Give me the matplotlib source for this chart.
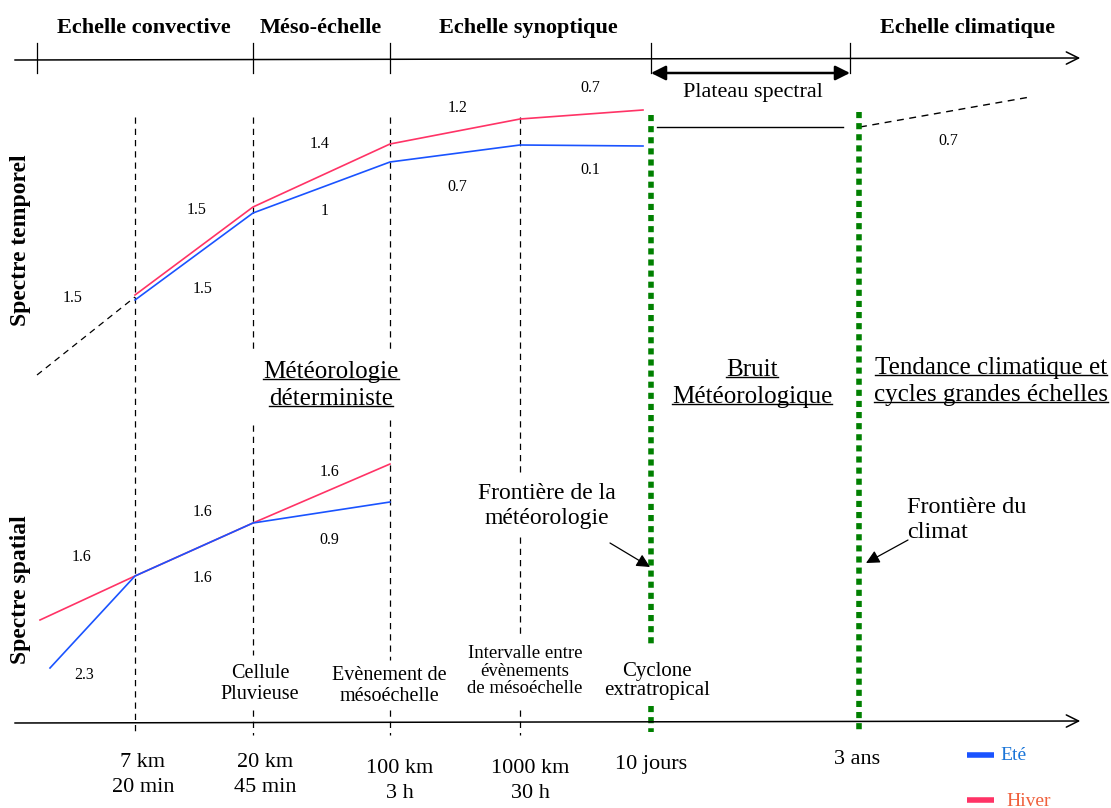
import matplotlib.pyplot as plt

# Schéma des échelles météorologiques (coordonnées en pixels de l'image)
scale_bounds = [37, 253, 390, 651, 850]
scale_names = ["Echelle convective", "Méso-échelle", "Echelle synoptique", "Echelle climatique"]
scale_name_x = [144, 321, 528, 968]

# lignes verticales pointillées noires
dash_x = [135, 253, 390, 520]
dash_segments = [[(117, 735)],
                 [(117, 350), (425, 655), (710, 735)],
                 [(117, 350), (420, 660), (710, 735)],
                 [(117, 472), (537, 635), (710, 735)]]

# spectre temporel
temp_x = [135, 253, 390, 520, 643]
temp_hiver = [295, 207, 144, 119, 110]
temp_ete = [300, 213, 162, 145, 146]
temp_labels = [("1.5", 73, 298), ("1.5", 203, 289), ("1.5", 197, 210), ("1", 325, 211),
               ("1.4", 320, 144), ("0.7", 457, 187), ("1.2", 458, 108), ("0.7", 590, 88),
               ("0.1", 590, 170), ("0.7", 948, 141)]

# spectre spatial
spat_x_hiver = [40, 135, 253, 390]
spat_hiver = [620, 576, 523, 464]
spat_x_ete = [50, 135, 253, 390]
spat_ete = [668, 576, 523, 502]
spat_labels = [("1.6", 82, 557), ("2.3", 84, 675), ("1.6", 203, 578), ("1.6", 203, 512),
               ("1.6", 330, 472), ("0.9", 329, 540)]

bottom_x = [143, 265, 400, 530, 651, 857]
bottom_labels = ["7 km\n20 min", "20 km\n45 min", "100 km\n3 h", "1000 km\n30 h", "10 jours", "3 ans"]
bottom_y = [775, 775, 781, 781, 765, 760]

events = [("Cellule\nPluvieuse", 260, 684, 14.5, 1.1), ("Evènement de\nmésoéchelle", 389, 686, 14.5, 1.1),
          ("Intervalle entre\névènements\nde mésoéchelle", 525, 671, 13.5, 1.05),
          ("Cyclone\nextratropical", 657, 681, 15, 1.05)]

green_x = [651, 859]
green_segments = [[(115, 645), (706, 732)], [(112, 732)]]
red = "#ff3366"
blue = "#1a53ff"
green = "#008000"

plt.rcParams['font.family'] = ['Liberation Serif', 'DejaVu Serif']

fig = plt.figure(figsize=(11.11, 8.08), dpi=100)
ax = fig.add_axes([0, 0, 1, 1])
ax.set_xlim(0, 1111)
ax.set_ylim(808, 0)
ax.axis("off")

# axe du haut
ax.annotate("", xy=(1083, 58), xytext=(12, 60),
            arrowprops=dict(arrowstyle="->", lw=1.1, color="black", mutation_scale=22))
for x in scale_bounds:
    ax.plot([x, x], [43, 73], color="black", lw=0.9)
for name, x in zip(scale_names, scale_name_x):
    ax.text(x, 28, name, ha="center", va="center", fontsize=16, fontweight="bold")

# plateau spectral
ax.annotate("", xy=(850, 73), xytext=(651, 73),
            arrowprops=dict(arrowstyle="<|-|>", lw=1.8, color="black", mutation_scale=22,
                            shrinkA=0, shrinkB=0))
ax.text(753, 93, "Plateau spectral", ha="center", va="center", fontsize=16)
ax.plot([657, 843], [127, 127], color="black", lw=1)
ax.plot([860, 1030], [127, 97], color="black", lw=1, ls=(0, (5, 4)))

# axe du bas
ax.annotate("", xy=(1083, 721), xytext=(12, 723),
            arrowprops=dict(arrowstyle="->", lw=1.1, color="black", mutation_scale=22))

for x, segs in zip(dash_x, dash_segments):
    for y0, y1 in segs:
        ax.plot([x, x], [y0, y1], color="black", lw=0.9, ls=(0, (5, 4)))

for x, segs in zip(green_x, green_segments):
    for y0, y1 in segs:
        ax.plot([x, x], [y0, y1], color=green, lw=4, ls=(0, (1.1, 0.9)), dash_capstyle="butt")

# courbes
ax.plot([37, 135], [375, 297], color="black", lw=0.9, ls=(0, (5, 4)))
ax.plot(temp_x, temp_hiver, color=red, lw=1.2)
ax.plot(temp_x, temp_ete, color=blue, lw=1.2)
ax.plot(spat_x_hiver, spat_hiver, color=red, lw=1.2)
ax.plot(spat_x_ete, spat_ete, color=blue, lw=1.2)

for t, x, y in temp_labels + spat_labels:
    ax.text(x, y, t, ha="center", va="center", fontsize=11.5)

ax.text(21, 240, "Spectre temporel", rotation=90, ha="center", va="center",
        fontsize=17, fontweight="bold")
ax.text(21, 590, "Spectre spatial", rotation=90, ha="center", va="center",
        fontsize=17, fontweight="bold")

# textes soulignés
fig.canvas.draw()
renderer = fig.canvas.get_renderer()


def underlined(lines, x, y0, dy, size):
    for i, line in enumerate(lines):
        t = ax.text(x, y0 + i * dy, line, ha="center", va="center", fontsize=size)
        bb = t.get_window_extent(renderer).transformed(ax.transData.inverted())
        yb = max(bb.y0, bb.y1) - 4
        ax.plot([bb.x0, bb.x1], [yb, yb], color="black", lw=1)


underlined(["Météorologie", "déterministe"], 331, 372, 27, 18)
underlined(["Bruit", "Météorologique"], 752, 370, 27, 18)
underlined(["Tendance climatique et", "cycles grandes échelles"], 991, 368, 27, 18)

ax.text(547, 506, "Frontière de la\nmétéorologie", ha="center", va="center",
        fontsize=17, linespacing=1.25)
ax.annotate("", xy=(650, 567), xytext=(610, 543),
            arrowprops=dict(arrowstyle="-|>", lw=0.9, color="black", mutation_scale=20,
                            shrinkA=0, shrinkB=0))
ax.text(907, 520, "Frontière du\nclimat", ha="left", va="center", fontsize=17.5,
        linespacing=1.25)
ax.annotate("", xy=(866, 563), xytext=(908, 540),
            arrowprops=dict(arrowstyle="-|>", lw=0.9, color="black", mutation_scale=20,
                            shrinkA=0, shrinkB=0))

for t, x, y, s, ls in events:
    ax.text(x, y, t, ha="center", va="center", fontsize=s, linespacing=ls)

for t, x, y in zip(bottom_labels, bottom_x, bottom_y):
    ax.text(x, y, t, ha="center", va="center", fontsize=16, linespacing=1.4)

# légende
ax.plot([967, 994], [755, 755], color=blue, lw=4, solid_capstyle="butt")
ax.text(1000, 756, "Eté", color="#1a75d8", fontsize=14, va="center")
ax.plot([967, 994], [800, 800], color=red, lw=4, solid_capstyle="butt")
ax.text(1006, 806, "Hiver", color="#f0603c", fontsize=14, va="baseline")

fig.savefig("out.png", dpi=100)
